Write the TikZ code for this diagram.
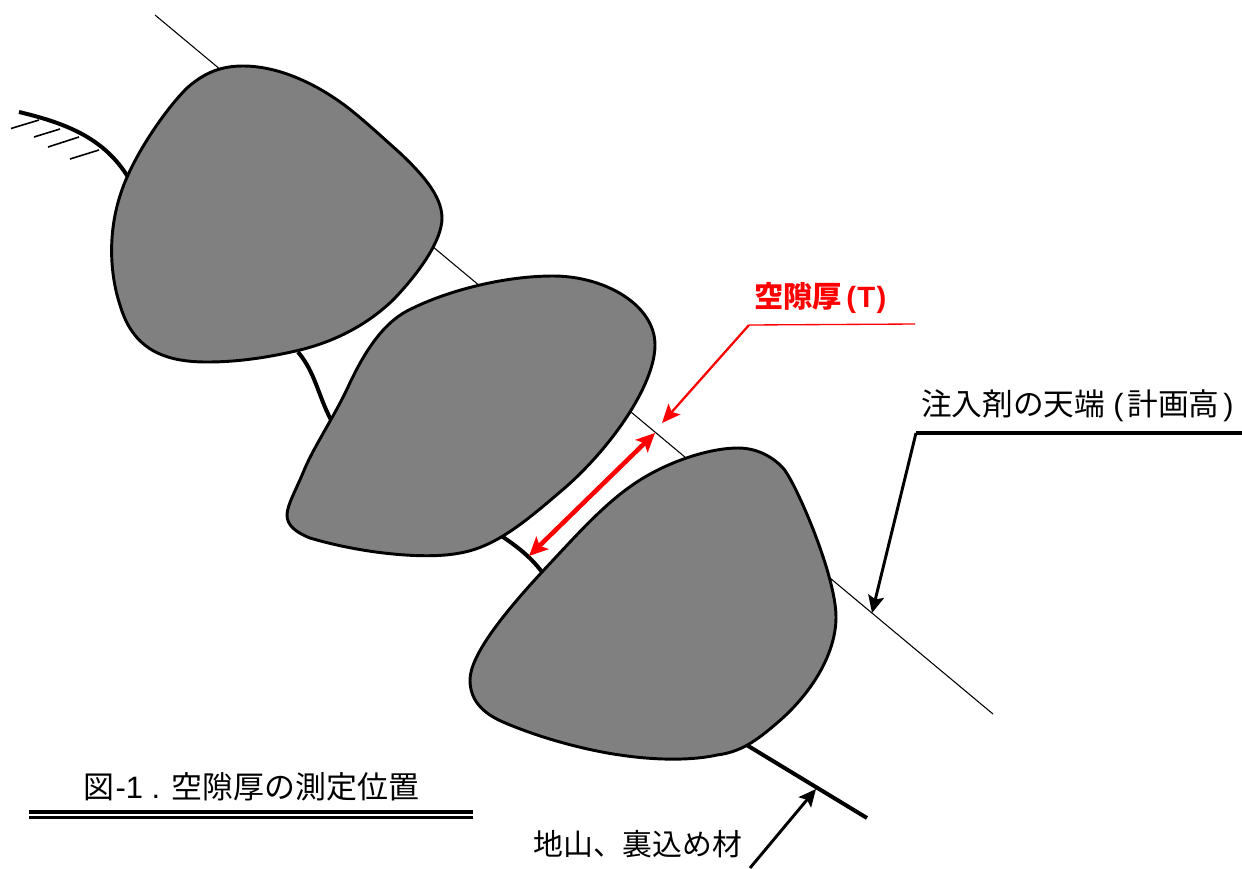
\documentclass[tikz,border=0pt]{standalone}
\usepackage{fontspec}
\setmainfont{Liberation Sans}
\newfontfamily\jpfont{Noto Sans CJK JP}
\usetikzlibrary{arrows.meta}
\definecolor{rockgray}{RGB}{128,128,128}
\tikzset{
  rock/.style={draw=black,fill=rockgray,line width=2.2pt,line join=round},
  ground/.style={draw=black,line width=3pt},
  hatch/.style={draw=black,line width=1.2pt},
  planline/.style={draw=black,line width=0.8pt},
  leader/.style={draw=black,line width=2.2pt,-{Stealth[length=13pt,width=12pt,inset=2.5pt]}},
  redleader/.style={draw=red,line width=1.7pt,-{Stealth[length=14pt,width=12pt,inset=3pt]}},
  measure/.style={draw=red,line width=3.4pt,
    {Stealth[length=14pt,width=13pt,inset=3pt]}-{Stealth[length=14pt,width=13pt,inset=3pt]}},
  caption/.style={inner sep=0pt,anchor=west,font=\fontsize{23}{25}\selectfont\jpfont}
}
\begin{document}
\begin{tikzpicture}[x=0.75pt,y=-0.75pt]
\useasboundingbox (0,0) rectangle (1242,868);

% design level line, passing behind the blocks
\coordinate (planA) at (155,15);
\coordinate (planB) at (993,714);
\draw[planline] (planA) -- (planB);

% natural ground surface with hatching
\coordinate (g1) at (19,112);
\coordinate (g2) at (128,177);
\draw[ground] (g1) .. controls (70,124) and (105,140) .. (g2);
\draw[hatch] (11,128.5) -- (39,120);
\draw[hatch] (34,137) -- (60,129);
\draw[hatch] (48,147) -- (79,137);
\draw[hatch] (70,159) -- (99,150);

% backing between the blocks and below
\draw[ground] (298,352) .. controls (315,372) and (318,395) .. (331,420);
\draw[ground] (500,535) .. controls (515,545) and (530,556) .. (542,572);
\draw[ground] (745,744) -- (867,818);

% stones
\draw[rock] (243,66) .. controls (280,66) and (318,85) .. (347,107)
  .. controls (365,121) and (382,137) .. (400,153)
  .. controls (420,172) and (442,195) .. (442,218)
  .. controls (442,240) and (420,272) .. (393,300)
  .. controls (370,322) and (340,340) .. (300,350)
  .. controls (270,357) and (240,362) .. (207,362)
  .. controls (165,362) and (133,350) .. (120,305)
  .. controls (110,275) and (105,225) .. (128,175)
  .. controls (140,148) and (165,110) .. (187,88)
  .. controls (205,72) and (222,66) .. (243,66) -- cycle;
\draw[rock] (553,276) .. controls (605,276) and (655,305) .. (655,345)
  .. controls (655,385) and (610,450) .. (560,492)
  .. controls (525,522) and (495,547) .. (460,553)
  .. controls (425,560) and (360,553) .. (310,538)
  .. controls (295,532) and (287,525) .. (287,515)
  .. controls (287,505) and (297,488) .. (305,468)
  .. controls (315,445) and (335,415) .. (348,387)
  .. controls (365,350) and (385,320) .. (413,308)
  .. controls (450,290) and (505,276) .. (553,276) -- cycle;
\draw[rock] (738,448) .. controls (756,448) and (772,456) .. (783,468)
  .. controls (795,481) and (836,575) .. (836,617)
  .. controls (836,655) and (810,695) .. (777,723)
  .. controls (755,742) and (740,752) .. (717,755)
  .. controls (695,760) and (660,761) .. (620,755)
  .. controls (585,750) and (540,738) .. (503,722)
  .. controls (480,712) and (470,698) .. (470,680)
  .. controls (470,655) and (505,612) .. (542,572)
  .. controls (575,537) and (605,502) .. (640,480)
  .. controls (670,461) and (710,448) .. (738,448) -- cycle;

% thickness measurement
\coordinate (mA) at (655,433);
\coordinate (mB) at (529,556);
\draw[measure] (mB) -- (mA);
\coordinate (rEnd) at (915,324);
\coordinate (rKnee) at (749,325);
\coordinate (rTip) at (662,423);
\draw[draw=red,line width=1pt] (rEnd) -- (rKnee);
\draw[redleader] (rKnee) -- (rTip);
\node[inner sep=0pt,anchor=west,text=red,font=\fontsize{22}{24}\selectfont\bfseries] (tlabel) at (754,298)
  {{\jpfont 空隙厚}\hspace{3pt}(\hspace{1pt}T\hspace{1pt})};

% design level leader
\coordinate (lEnd) at (1242,433);
\coordinate (lKnee) at (916,433);
\coordinate (lTip) at (872,613);
\draw[draw=black,line width=3pt] (lEnd) -- (lKnee);
\draw[leader] (lKnee) -- (lTip);
\node[caption] (level) at (921,406) {注入剤の天端\hspace{6pt}{\rmfamily (}\hspace{3pt}計画高\hspace{3pt}{\rmfamily )}};

% ground leader
\coordinate (bFoot) at (750,868);
\coordinate (bTip) at (816,789);
\draw[leader] (bFoot) -- (bTip);
\node[caption,font=\fontsize{22.4}{25}\selectfont\jpfont] (soil) at (533,844) {地山、裏込め材};

% figure title with its double rule
\node[caption,font=\fontsize{23.2}{25}\selectfont\jpfont] (figtitle) at (83,787) {図\hspace{1pt}{\rmfamily -1 . }空隙厚の測定位置};
\draw[draw=black,line width=2.4pt] (29,812) -- (473,812);
\draw[draw=black,line width=2.4pt] (29,817.5) -- (473,817.5);
\end{tikzpicture}
\end{document}
